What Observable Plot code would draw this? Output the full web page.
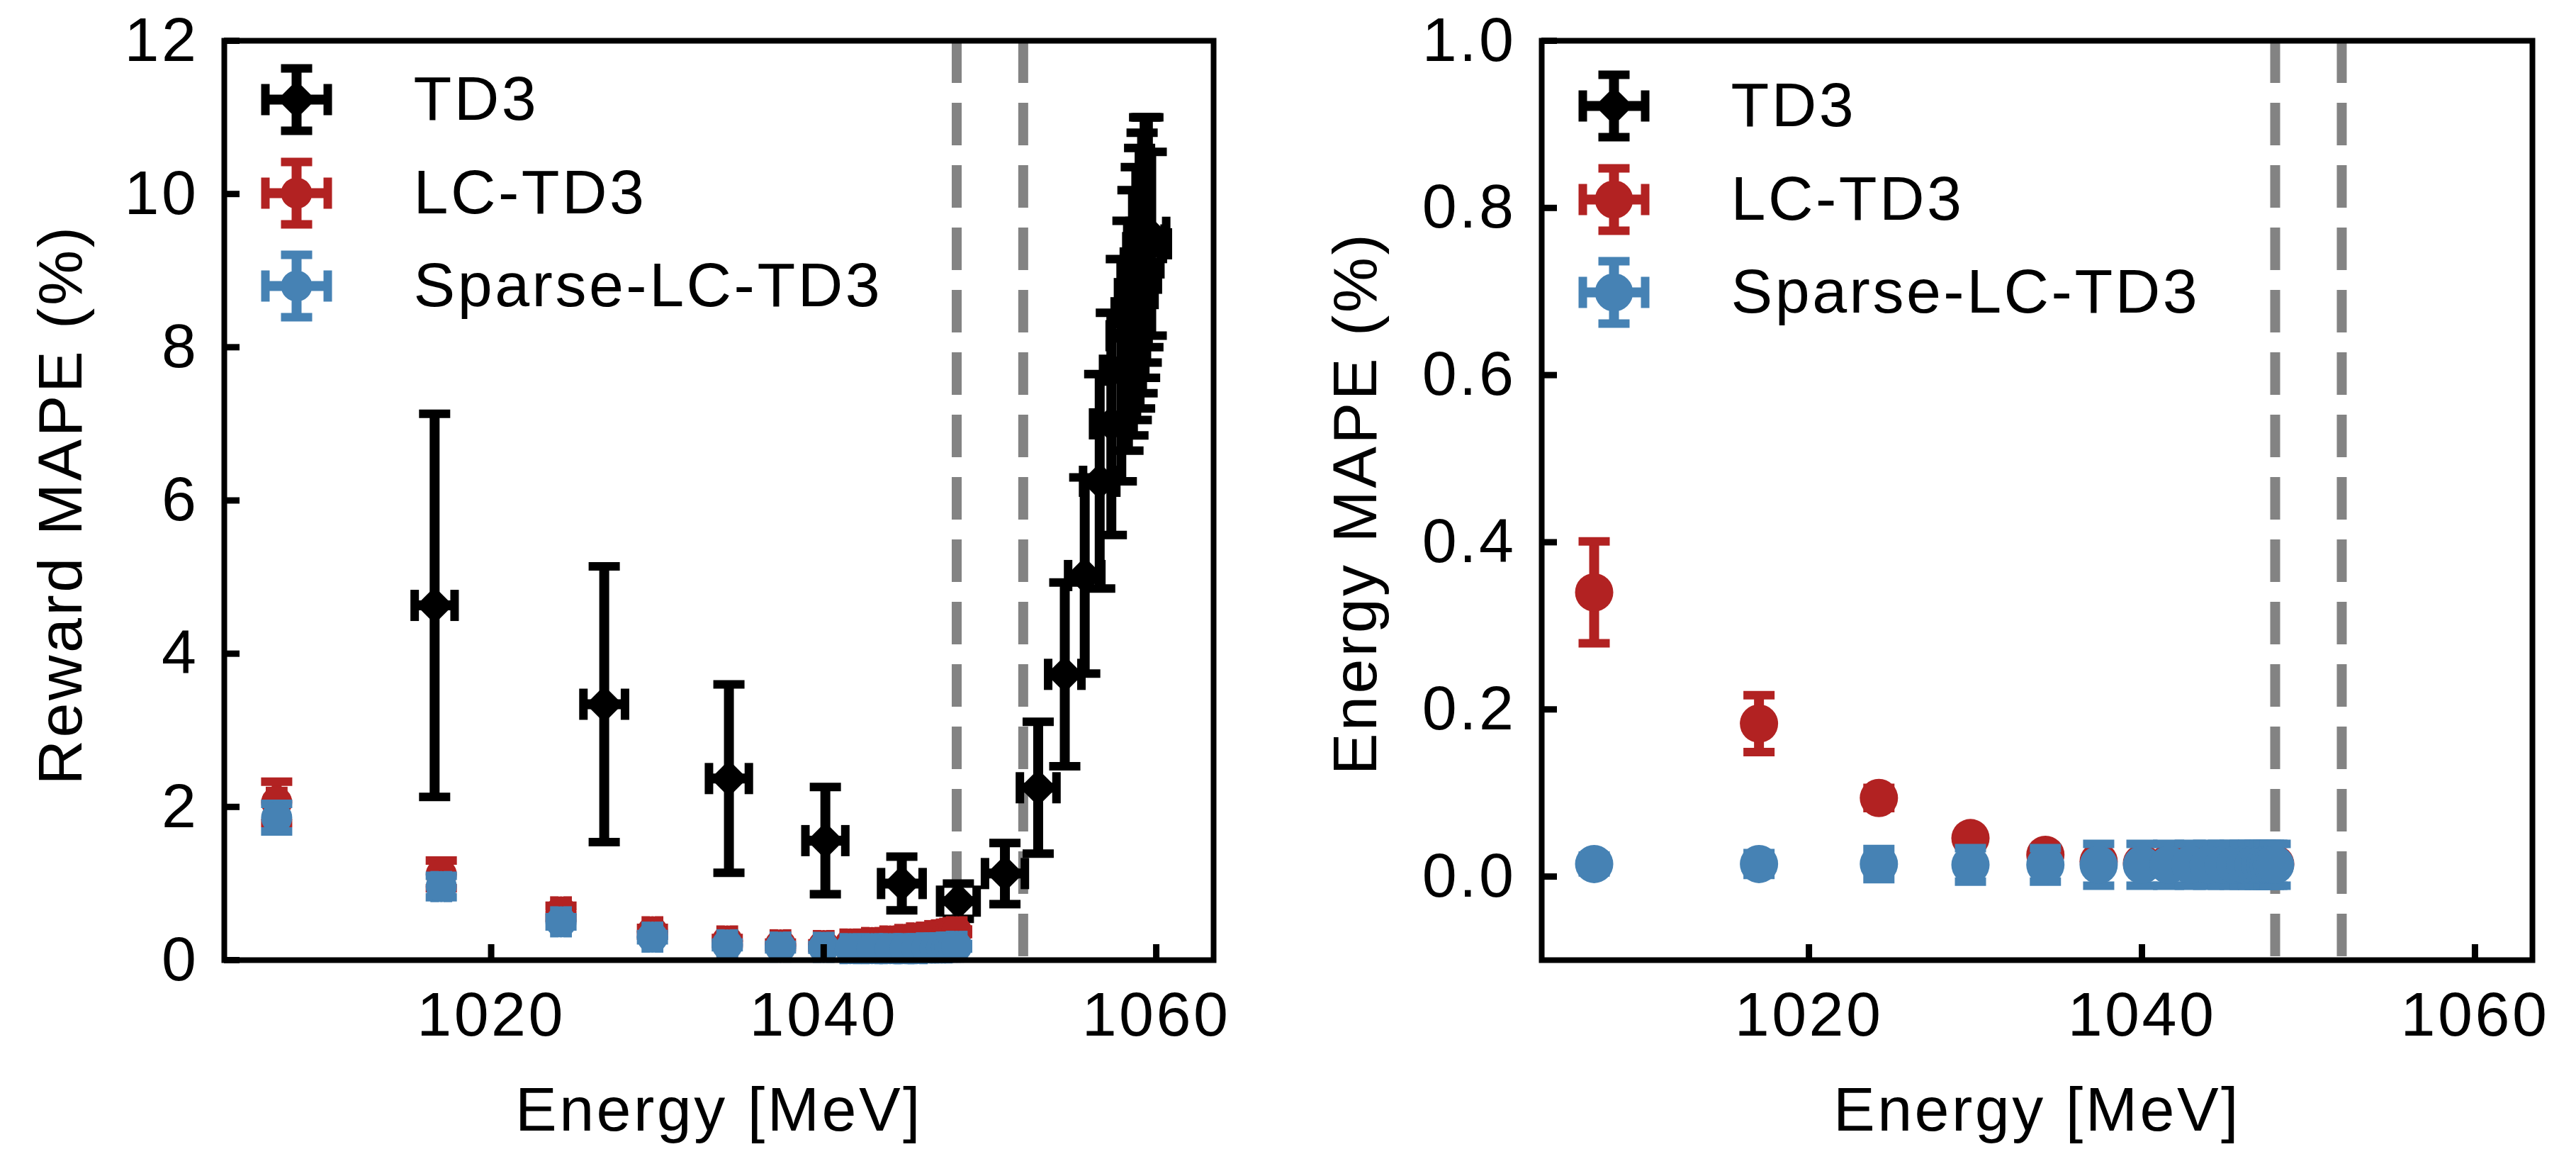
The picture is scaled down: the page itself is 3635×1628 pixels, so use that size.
<!DOCTYPE html>
<html>
<head>
<meta charset="utf-8">
<script src="https://cdn.jsdelivr.net/npm/d3@7"></script>
<script src="https://cdn.jsdelivr.net/npm/@observablehq/plot@0.6"></script>
<style>
  html, body { margin: 0; padding: 0; background: #ffffff; }
  #wrap { position: relative; width: 3635px; height: 1628px; overflow: hidden; background: #ffffff; }
  #left { position: absolute; left: 0; top: 0; width: 1800px; height: 1628px; }
  #right { position: absolute; left: 1800px; top: 0; width: 1835px; height: 1628px; }
</style>
</head>
<body>
<div id="wrap"><div id="left"></div><div id="right"></div></div>
<script>
// ---------------- data ----------------
const xTicks = [1020, 1040, 1060];
const rewardTicks = [0, 2, 4, 6, 8, 10, 12];
const energyTicks = [0, 0.2, 0.4, 0.6, 0.8, 1.0];
const thresholds = [1048, 1052];
const xDomain = [1003.95, 1063.45];
const rewardDomain = [0, 12];
const energyDomain = [-0.1, 1.0];
const legendLabels = ["TD3", "LC-TD3", "Sparse-LC-TD3"];

// TD3 (reward MAPE only)
const td3Energy    = [1016.6, 1026.8, 1034.3, 1040.1, 1044.7, 1048.1, 1050.9, 1052.9, 1054.5, 1055.7, 1056.6,
                      1057.3, 1057.9, 1058.3, 1058.6, 1058.8, 1059.0, 1059.15, 1059.3, 1059.4, 1059.5, 1059.7];
const td3EnergyErr = [1.2, 1.25, 1.2, 1.2, 1.25, 1.1, 1.2, 1.1, 1.0, 1.0, 1.0,
                      1.1, 1.1, 1.1, 1.1, 1.1, 1.1, 1.1, 1.1, 1.1, 1.1, 1.0];
const td3Reward    = [4.63, 3.34, 2.37, 1.56, 1.0, 0.77, 1.13, 2.25, 3.73, 5.02, 6.25,
                      7.0, 7.7, 8.15, 8.45, 8.7, 8.9, 9.1, 9.3, 9.4, 9.5, 9.35];
const td3RewardErr = [2.5, 1.8, 1.23, 0.70, 0.35, 0.23, 0.40, 0.86, 1.2, 1.28, 1.4,
                      1.45, 1.45, 1.5, 1.6, 1.65, 1.7, 1.7, 1.7, 1.6, 1.5, 1.2];

// LC-TD3
const lcEnergy        = [1007.1, 1017.0, 1024.2, 1029.7, 1034.2, 1037.4, 1040.0, 1041.6, 1042.9, 1044.0,
                         1044.9, 1045.6, 1046.2, 1046.7, 1047.1, 1047.4, 1047.6, 1047.8, 1048.0];
const lcEnergyErr     = [0.4, 0.4, 0.4, 0.4, 0.4, 0.4, 0.4, 0.4, 0.4, 0.4, 0.4, 0.4, 0.4, 0.4, 0.4, 0.4, 0.4, 0.4, 0.4];
const lcReward        = [2.06, 1.12, 0.63, 0.37, 0.25, 0.20, 0.19, 0.21, 0.23, 0.25,
                         0.27, 0.29, 0.30, 0.32, 0.33, 0.34, 0.35, 0.36, 0.37];
const lcRewardErr     = [0.27, 0.18, 0.08, 0.05, 0.04, 0.03, 0.03, 0.03, 0.03, 0.03,
                         0.03, 0.03, 0.03, 0.03, 0.03, 0.03, 0.03, 0.03, 0.03];
const lcEnergyMape    = [0.340, 0.183, 0.094, 0.046, 0.026, 0.018, 0.016, 0.016, 0.016, 0.015,
                         0.015, 0.015, 0.015, 0.015, 0.015, 0.015, 0.015, 0.015, 0.015];
const lcEnergyMapeErr = [0.061, 0.034, 0.012, 0.008, 0.006, 0.005, 0.005, 0.005, 0.005, 0.005,
                         0.005, 0.005, 0.005, 0.005, 0.005, 0.005, 0.005, 0.005, 0.005];

// Sparse-LC-TD3
const spEnergy        = [1007.1, 1017.0, 1024.2, 1029.7, 1034.2, 1037.4, 1040.0, 1041.6, 1042.9, 1044.0,
                         1044.9, 1045.6, 1046.2, 1046.7, 1047.1, 1047.4, 1047.6, 1047.8, 1048.0];
const spEnergyErr     = [0.4, 0.4, 0.4, 0.4, 0.4, 0.4, 0.4, 0.4, 0.4, 0.4, 0.4, 0.4, 0.4, 0.4, 0.4, 0.4, 0.4, 0.4, 0.4];
const spReward        = [1.86, 0.96, 0.50, 0.30, 0.20, 0.17, 0.167, 0.15, 0.15, 0.15,
                         0.15, 0.15, 0.16, 0.16, 0.16, 0.17, 0.17, 0.17, 0.18];
const spRewardErr     = [0.18, 0.14, 0.06, 0.04, 0.03, 0.03, 0.03, 0.03, 0.03, 0.03,
                         0.03, 0.03, 0.03, 0.03, 0.03, 0.03, 0.03, 0.03, 0.03];
const spEnergyMape    = [0.015, 0.015, 0.015, 0.014, 0.014, 0.014, 0.014, 0.014, 0.014, 0.014,
                         0.014, 0.014, 0.014, 0.014, 0.014, 0.014, 0.014, 0.014, 0.014];
const spEnergyMapeErr = [0.010, 0.013, 0.018, 0.020, 0.020, 0.025, 0.025, 0.025, 0.025, 0.025,
                         0.025, 0.025, 0.025, 0.025, 0.025, 0.025, 0.025, 0.025, 0.025];

// ---------------- styling ----------------
const FONT = "'Liberation Sans', Arial, Helvetica, sans-serif";
const FS = 88;
const BLACK = "#000000", RED = "#b22222", BLUE = "#4682b4", GRAY = "#838383";
const colors = [BLACK, RED, BLUE];

const rectSym = (w, h) => ({draw(ctx) { ctx.rect(-w / 2, -h / 2, w, h); }});
const diamondSym = (a) => ({draw(ctx) {
  ctx.moveTo(0, -a); ctx.lineTo(a, 0); ctx.lineTo(0, a); ctx.lineTo(-a, 0); ctx.closePath();
}});
const legendSym = (kind, size) => ({draw(ctx) {
  const L = 44, t = 14, cw = 12, ch = 44;
  ctx.rect(-L, -t / 2, 2 * L, t);
  ctx.rect(-t / 2, -L, t, 2 * L);
  ctx.rect(-L - cw / 2, -ch / 2, cw, ch);
  ctx.rect(L - cw / 2, -ch / 2, cw, ch);
  ctx.rect(-ch / 2, -L - cw / 2, ch, cw);
  ctx.rect(-ch / 2, L - cw / 2, ch, cw);
  if (kind === "diamond") {
    ctx.moveTo(0, -size); ctx.lineTo(size, 0); ctx.lineTo(0, size); ctx.lineTo(-size, 0); ctx.closePath();
  } else {
    ctx.moveTo(size, 0); ctx.arc(0, 0, size, 0, 2 * Math.PI);
  }
}});

const BAR = 14;
const capH = rectSym(44, 12);
const capV = rectSym(12, 44);

function rows(e, ex, v, vy) {
  return e.map((d, i) => ({e: d, ex: ex[i], v: v[i], vy: vy[i]}));
}

function errorMarks(data, color, marker) {
  return [
    Plot.ruleY(data, {y: "v", x1: d => d.e - d.ex, x2: d => d.e + d.ex, stroke: color, strokeWidth: BAR}),
    Plot.ruleX(data, {x: "e", y1: d => d.v - d.vy, y2: d => d.v + d.vy, stroke: color, strokeWidth: BAR}),
    Plot.dot(data, {x: d => d.e - d.ex, y: "v", symbol: capV, fill: color, stroke: "none"}),
    Plot.dot(data, {x: d => d.e + d.ex, y: "v", symbol: capV, fill: color, stroke: "none"}),
    Plot.dot(data, {x: "e", y: d => d.v - d.vy, symbol: capH, fill: color, stroke: "none"}),
    Plot.dot(data, {x: "e", y: d => d.v + d.vy, symbol: capH, fill: color, stroke: "none"}),
    marker.type === "diamond"
      ? Plot.dot(data, {x: "e", y: "v", symbol: diamondSym(marker.size), fill: color, stroke: "none"})
      : Plot.dot(data, {x: "e", y: "v", r: marker.size, fill: color, stroke: "none"})
  ];
}

function legendMarks(rowDy, circleR) {
  const m = [];
  legendLabels.forEach((lab, i) => {
    m.push(Plot.dot([lab], {frameAnchor: "top-left", dx: 102, dy: rowDy[i],
      symbol: legendSym(i === 0 ? "diamond" : "circle", i === 0 ? 27 : circleR),
      fill: colors[i], stroke: "none"}));
    m.push(Plot.text([lab], {frameAnchor: "top-left", dx: 267, dy: rowDy[i], textAnchor: "start",
      lineAnchor: "middle", fontSize: FS, fill: BLACK, ariaLabel: "legend-text"}));
  });
  return m;
}

function frameTicks(xT, yT, plotW, plotH) {
  return [
    Plot.tickX(xT, {x: d => d, stroke: BLACK, strokeWidth: 9, insetTop: plotH - 22}),
    Plot.tickY(yT, {y: d => d, stroke: BLACK, strokeWidth: 9, insetRight: plotW - 22}),
    Plot.frame({stroke: BLACK, strokeWidth: 8})
  ];
}

function tuneText(svg) {
  const s = d3.select(svg);
  s.selectAll("text").style("letter-spacing", "3.5px");
  s.selectAll('g[aria-label="legend-text"] text').style("letter-spacing", "2.5px");
  s.selectAll('g[aria-label="ylabel"] text').style("letter-spacing", "1.8px");
}

const MT = 57, MB = 274, HEIGHT = 1628;

// ---------------- left panel ----------------
{
  const W = 1800, ML = 316, MR = 88;
  const td3 = rows(td3Energy, td3EnergyErr, td3Reward, td3RewardErr);
  const lc = rows(lcEnergy, lcEnergyErr, lcReward, lcRewardErr);
  const sp = rows(spEnergy, spEnergyErr, spReward, spRewardErr);
  const chart = Plot.plot({
    width: W, height: HEIGHT, marginLeft: ML, marginRight: MR, marginTop: MT, marginBottom: MB,
    style: {fontFamily: FONT, fontSize: FS + "px", background: "#ffffff", overflow: "visible", color: BLACK},
    x: {domain: xDomain, ticks: xTicks, tickSize: 0, tickPadding: 44, tickFormat: d => String(d), label: null},
    y: {domain: rewardDomain, ticks: rewardTicks, tickSize: 0, tickPadding: 36, tickFormat: d => String(d), label: null},
    marks: [
      Plot.ruleX(thresholds, {x: d => d, stroke: GRAY, strokeWidth: 14, strokeDasharray: "60,28"}),
      ...errorMarks(td3, BLACK, {type: "diamond", size: 26}),
      ...errorMarks(lc, RED, {type: "circle", size: 22}),
      ...errorMarks(sp, BLUE, {type: "circle", size: 22}),
      ...frameTicks(xTicks, rewardTicks, W - ML - MR, HEIGHT - MT - MB),
      Plot.text(["Energy [MeV]"], {frameAnchor: "bottom", lineAnchor: "top", dy: 178, fontSize: FS, fill: BLACK}),
      Plot.text(["Reward MAPE (%)"], {frameAnchor: "left", rotate: -90, dx: -230, dy: 6, textAnchor: "middle",
        lineAnchor: "middle", fontSize: FS, fill: BLACK, ariaLabel: "ylabel"}),
      ...legendMarks([83, 215, 346], 22)
    ]
  });
  tuneText(chart);
  document.getElementById("left").appendChild(chart);
}

// ---------------- right panel ----------------
{
  const W = 1835, ML = 375, MR = 62;
  const lc = rows(lcEnergy, lcEnergyErr, lcEnergyMape, lcEnergyMapeErr);
  const sp = rows(spEnergy, spEnergyErr, spEnergyMape, spEnergyMapeErr);
  const chart = Plot.plot({
    width: W, height: HEIGHT, marginLeft: ML, marginRight: MR, marginTop: MT, marginBottom: MB,
    style: {fontFamily: FONT, fontSize: FS + "px", background: "#ffffff", overflow: "visible", color: BLACK},
    x: {domain: xDomain, ticks: xTicks, tickSize: 0, tickPadding: 44, tickFormat: d => String(d), label: null},
    y: {domain: energyDomain, ticks: energyTicks, tickSize: 0, tickPadding: 36, tickFormat: d3.format(".1f"), label: null},
    marks: [
      Plot.ruleX(thresholds, {x: d => d, stroke: GRAY, strokeWidth: 14, strokeDasharray: "60,28"}),
      ...errorMarks(lc, RED, {type: "circle", size: 27}),
      ...errorMarks(sp, BLUE, {type: "circle", size: 27}),
      ...frameTicks(xTicks, energyTicks, W - ML - MR, HEIGHT - MT - MB),
      Plot.text(["Energy [MeV]"], {frameAnchor: "bottom", lineAnchor: "top", dy: 178, fontSize: FS, fill: BLACK}),
      Plot.text(["Energy MAPE (%)"], {frameAnchor: "left", rotate: -90, dx: -262, dy: 4, textAnchor: "middle",
        lineAnchor: "middle", fontSize: FS, fill: BLACK, ariaLabel: "ylabel"}),
      ...legendMarks([92, 224, 355], 27)
    ]
  });
  tuneText(chart);
  document.getElementById("right").appendChild(chart);
}
</script>
</body>
</html>
